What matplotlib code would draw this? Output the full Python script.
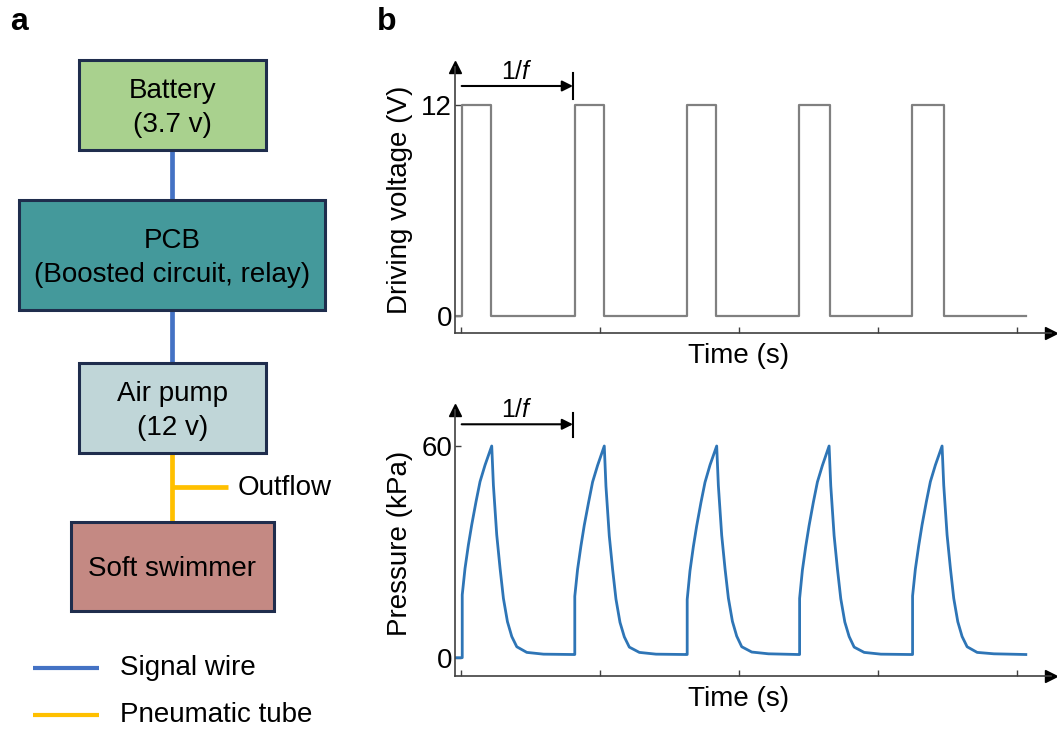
import numpy as np
import matplotlib
matplotlib.use("Agg")
import matplotlib.pyplot as plt
from matplotlib.patches import Rectangle

plt.rcParams["font.family"] = ["Liberation Sans", "DejaVu Sans"]
plt.rcParams["mathtext.fontset"] = "custom"
plt.rcParams["mathtext.it"] = "Liberation Sans:italic"
plt.rcParams["mathtext.rm"] = "Liberation Sans"

# ---- panel a: system blocks ----
box_labels = ["Battery\n(3.7 v)", "PCB\n(Boosted circuit, relay)", "Air pump\n(12 v)", "Soft swimmer"]
box_colors = ["#a9d18e", "#44999b", "#c0d6d8", "#c48983"]
legend_labels = ["Signal wire", "Pneumatic tube"]
wire_colors = ["#4472c4", "#ffc000"]

# ---- panel b: drive signal and chamber pressure ----
pulse_on = [0.005, 0.816, 1.623, 2.431, 3.244]      # s, rising edges
pulse_off = [0.218, 1.028, 1.836, 2.649, 3.470]     # s, falling edges
v_high = 12
t_first, t_last = -0.043, 4.06

pressure_t = [-0.043,
              0.009, 0.009, 0.029, 0.053, 0.077, 0.108, 0.137, 0.173, 0.221, 0.233,
              0.257, 0.281, 0.305, 0.334, 0.365, 0.401, 0.473, 0.593, 0.809,
              0.818, 0.818, 0.838, 0.862, 0.886, 0.917, 0.946, 0.982, 1.030, 1.042,
              1.066, 1.090, 1.114, 1.143, 1.174, 1.210, 1.282, 1.402, 1.618,
              1.626, 1.626, 1.646, 1.670, 1.694, 1.725, 1.754, 1.790, 1.838, 1.850,
              1.874, 1.898, 1.922, 1.951, 1.982, 2.018, 2.090, 2.210, 2.426,
              2.434, 2.434, 2.454, 2.478, 2.502, 2.533, 2.562, 2.598, 2.646, 2.658,
              2.682, 2.706, 2.730, 2.759, 2.790, 2.826, 2.898, 3.018, 3.234,
              3.246, 3.246, 3.266, 3.290, 3.314, 3.345, 3.374, 3.410, 3.458, 3.470,
              3.494, 3.518, 3.542, 3.571, 3.602, 3.638, 3.710, 3.830, 4.060]
pressure_kpa = [0.0,
                0.0, 17.8, 25.3, 31.9, 37.6, 44.2, 49.9, 54.6, 60.0, 48.9,
                34.8, 25.3, 16.8, 10.2, 6.0, 3.1, 1.5, 1.0, 0.9,
                0.9, 17.4, 25.0, 31.6, 37.5, 44.0, 49.8, 54.5, 60.0, 48.6,
                34.5, 25.0, 16.6, 10.0, 5.9, 3.0, 1.5, 1.0, 0.9,
                0.9, 16.5, 24.6, 31.4, 37.3, 44.0, 49.7, 54.6, 60.0, 48.8,
                34.7, 25.2, 16.9, 10.3, 6.1, 3.1, 1.6, 1.1, 0.9,
                0.9, 16.8, 24.8, 31.5, 37.4, 44.1, 49.8, 54.5, 60.0, 48.7,
                34.6, 25.1, 16.7, 10.1, 6.0, 3.0, 1.5, 1.0, 0.9,
                0.9, 17.5, 25.1, 31.7, 37.6, 44.2, 49.9, 54.6, 60.0, 48.9,
                34.8, 25.3, 16.8, 10.2, 6.0, 3.1, 1.5, 1.1, 0.9]

period_mark = (pulse_on[0], pulse_on[1] - 0.011)

W, H = 1057, 729
fig = plt.figure(figsize=(W / 100, H / 100), dpi=100)

# ---------- panel a ----------
axa = fig.add_axes([0, 0, 340 / W, 1])
axa.set_xlim(0, 340); axa.set_ylim(H, 0); axa.axis("off")
boxes = [(79, 60, 187, 90), (19, 200, 306, 110), (79, 363, 187, 90), (71, 522, 203, 89)]
cx = 172
for (x0, y0, w, h), lab, fc in zip(boxes, box_labels, box_colors):
    axa.add_patch(Rectangle((x0, y0), w, h, fc=fc, ec="#1f2d4d", lw=2.2, zorder=2))
    axa.text(x0 + w / 2, y0 + h / 2 + 3, lab, ha="center", va="center",
             fontsize=20, linespacing=1.4, zorder=3)
# connections
axa.plot([cx, cx], [150, 200], color=wire_colors[0], lw=3.4, zorder=1, solid_capstyle="butt")
axa.plot([cx, cx], [310, 363], color=wire_colors[0], lw=3.4, zorder=1, solid_capstyle="butt")
axa.plot([cx, cx], [453, 522], color=wire_colors[1], lw=3.4, zorder=1, solid_capstyle="butt")
axa.plot([cx, 228], [487, 487], color=wire_colors[1], lw=3.4, zorder=1, solid_capstyle="butt")
axa.text(238, 488, "Outflow", ha="left", va="center", fontsize=20)
# legend
for yy, lab, c in zip([668, 715], legend_labels, wire_colors):
    axa.plot([33, 99], [yy, yy], color=c, lw=3, solid_capstyle="butt")
    axa.text(120, yy, lab, ha="left", va="center", fontsize=20)

fig.text(10 / W, 1 - 22 / H, "a", fontsize=23, fontweight="bold", ha="left", va="center")
fig.text(377 / W, 1 - 22 / H, "b", fontsize=23, fontweight="bold", ha="left", va="center")

# ---------- panel b ----------
x0px, x1px = 455, 1051
axv = fig.add_axes([x0px / W, 1 - 333 / H, (x1px - x0px) / W, 266 / H])
axp = fig.add_axes([x0px / W, 1 - 676 / H, (x1px - x0px) / W, 266 / H])

# square drive wave from the edge times
tv, vv = [t_first], [0]
for on, off in zip(pulse_on, pulse_off):
    tv += [on, on, off, off]
    vv += [0, v_high, v_high, 0]
tv.append(t_last); vv.append(0)
axv.plot(tv, vv, color="#808080", lw=1.6)
axp.plot(pressure_t, pressure_kpa, color="#2e75b6", lw=2.0)

axv.set_ylim(-0.967, 14.16)
axp.set_ylim(-5.19, 70.2)
axv.set_yticks([0, 12])
axp.set_yticks([0, 60])
axv.set_ylabel("Driving voltage (V)", fontsize=20)
axp.set_ylabel("Pressure (kPa)", fontsize=20)

for ax in (axv, axp):
    ax.set_xlim(-0.043, 4.241)
    ax.set_xticks([0, 1, 2, 3, 4])
    ax.set_xticklabels([])
    for s in ("top", "right"):
        ax.spines[s].set_visible(False)
    for s in ("left", "bottom"):
        ax.spines[s].set_color("#404040")
        ax.spines[s].set_linewidth(1.2)
    ax.tick_params(direction="in", length=4, width=1, color="#404040", pad=2, labelsize=20)
    ax.plot(1, 0, ">", color="k", ms=9, transform=ax.transAxes, clip_on=False)
    ax.plot(0, 1, "^", color="k", ms=9, transform=ax.transAxes, clip_on=False)
    ax.set_xlabel("Time (s)", fontsize=20, va="top")
    ax.xaxis.set_label_coords(0.475, -0.038)
    ax.yaxis.set_label_coords(-0.07, 0.5)

# period markers
for ax, ya, ybar in ((axv, 13.08, (12.34, 13.82)), (axp, 66.15, (62.55, 69.35))):
    ax.annotate("", xy=(period_mark[1], ya), xytext=(period_mark[0], ya),
                arrowprops=dict(arrowstyle="-|>", color="k", lw=1.5, mutation_scale=16,
                                shrinkA=0, shrinkB=0), annotation_clip=False)
    ax.plot([period_mark[1]] * 2, ybar, color="k", lw=1.5, clip_on=False)
    ax.annotate("1/$\\mathit{f}$", xy=((period_mark[0] + period_mark[1]) / 2, ya),
                xytext=(0, 1.5), textcoords="offset points", ha="center", va="bottom",
                fontsize=18, annotation_clip=False)

fig.savefig("out.png", dpi=100)
